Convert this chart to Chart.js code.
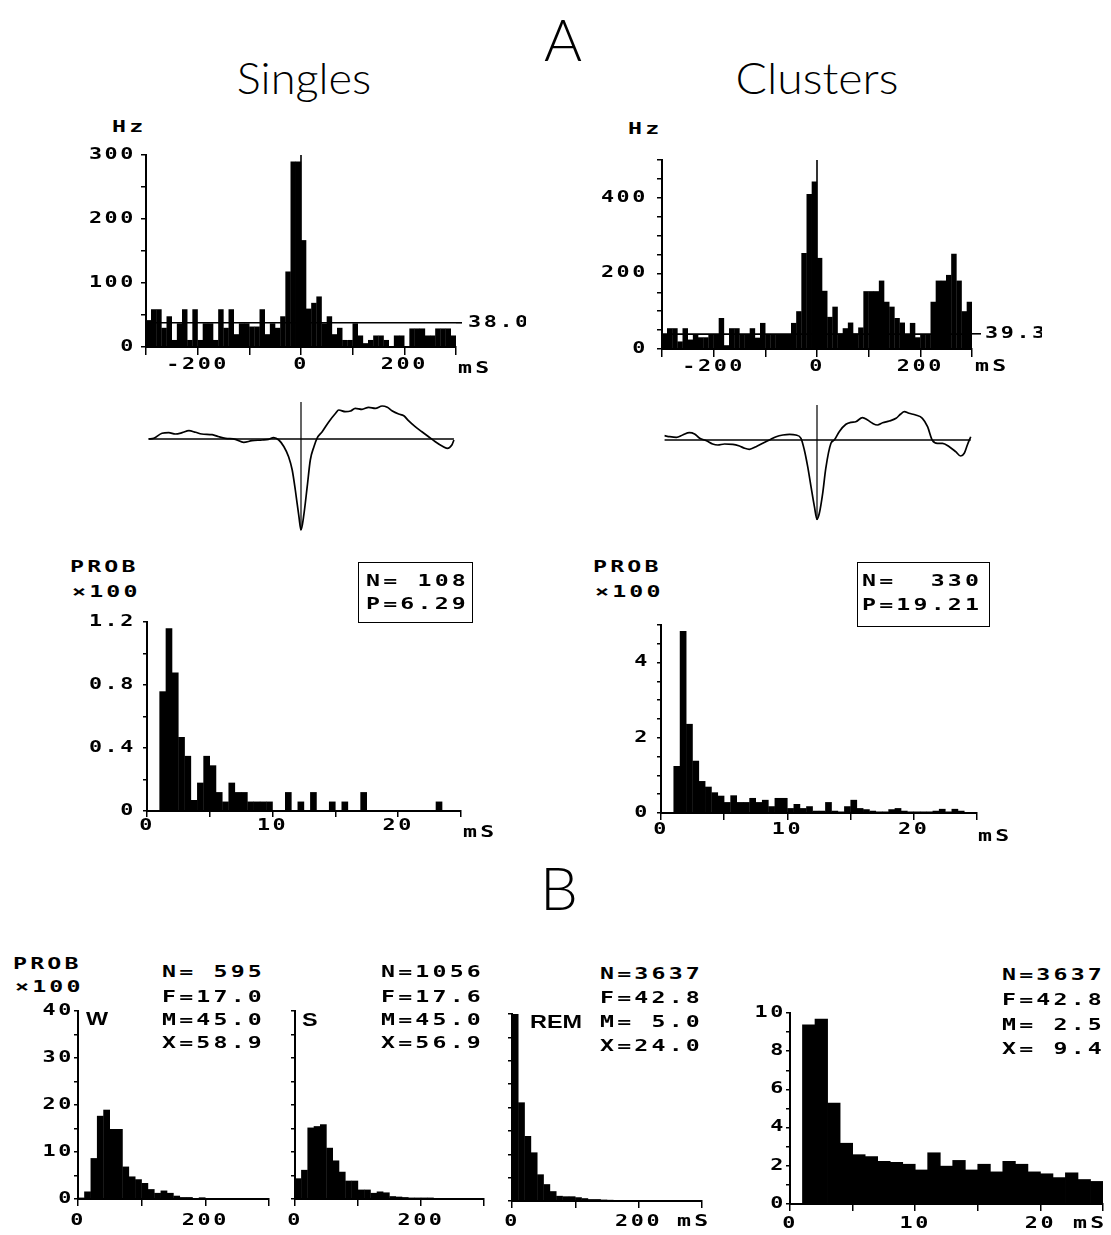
<!DOCTYPE html>
<html><head><meta charset="utf-8">
<script src="https://cdn.jsdelivr.net/npm/chart.js@4.4.0/dist/chart.umd.min.js"></script>
<style>
html,body{margin:0;padding:0;background:#fff;}
body{width:1111px;height:1235px;position:relative;overflow:hidden;}
canvas{position:absolute;}
.t{position:absolute;font:bold 16px 'DejaVu Sans Mono';line-height:16px;letter-spacing:2.2px;white-space:pre;transform:scaleX(1.45);transform-origin:0 0;color:#000;}
.title{position:absolute;font-family:Lato;font-weight:300;color:#000;white-space:pre;text-align:center;}
.lbl{position:absolute;font:bold 18px 'Liberation Sans';line-height:18px;white-space:pre;transform:scaleX(1.3);transform-origin:0 0;color:#000;}
.box{position:absolute;border:1.5px solid #000;box-sizing:border-box;}
</style></head><body>
<script>
// ---------------- DATA ----------------
// A: peri-event histograms (10 ms bins, -300..300 ms), rate in Hz
const psthBinStart = -300, psthBinWidth = 10, psthBinCount = 60;
const singlesRate = [42,59,59,30,48,11,37,59,11,59,11,37,37,11,59,30,59,20,37,37,32,32,59,20,37,30,48,118,290,290,167,60,69,79,37,48,20,30,11,11,37,18,6,11,18,18,11,0,18,18,0,29,29,29,18,18,29,29,29,18];
const clustersRate = [39,55,55,20,55,25,39,31,31,39,39,82,10,55,55,39,39,55,30,69,39,39,39,39,39,69,100,254,410,443,241,154,85,112,41,55,70,41,57,153,153,153,181,125,112,82,70,39,69,31,39,39,125,181,181,196,252,181,100,125];
const singlesMeanRate = 38.0, clustersMeanRate = 39.3;

// A: averaged waveforms (time on the histogram axis, arbitrary amplitude)
const singlesWaveT = [-295,-285,-269,-256,-243,-230,-217,-204,-192,-172,-159,-146,-127,-111,-95,-75,-63,-53,-43,-33,-24,-17,-11,-4,0,5,12,18,25,31,41,54,67,73,86,96,105,118,131,144,157,167,176,189,199,208,221,234,247,260,273,283,292,296];
const singlesWaveA = [0,0.7,5.7,6.3,5,6.3,8.3,6.7,5,4.3,2.3,0.7,-0.3,-3.3,-1.7,-1,-0.3,1.3,-1,-7.7,-17.7,-31,-51,-77.7,-91,-77.7,-47.7,-21,-7.7,0.7,7.3,17.3,25.7,29,27.3,28,30.7,29.7,31.7,30.7,33,31.7,28.3,25,23.3,18.3,12.3,7.3,2.3,-2.7,-7,-9.3,-6,-1];
const clustersWaveT = [-295,-285,-272,-260,-247,-237,-227,-214,-202,-192,-179,-163,-150,-140,-131,-118,-105,-92,-79,-66,-53,-41,-31,-24.5,-18,-11.6,-5,0,4.5,11,17,27,33.5,43,56,66,75,88,98,107.5,117,127,140,153,162,169,178,191,204,214,223,233,243,256,268.5,278,285,291,297.5];
const clustersWaveA = [4.3,3.3,2.7,5,7.3,6,1.7,-0.7,-4,-5,-4,-4.3,-6,-8.3,-9.3,-6.7,-3.3,0,3.3,5,5.7,5,1.7,-10,-26.7,-46.7,-66.7,-79.3,-73.3,-53.3,-28.3,-3.3,0,8.3,15.7,17.7,18.3,22.3,20,16.7,15,17.3,19,21.7,26,28.3,26.7,25,21.7,13.3,0,-3.3,-3.3,-6.7,-11.7,-16,-13.3,-5,3.3];

// A: interval histograms (0.5 ms bins, 0..25 ms), PROB x100
const isiBinWidth = 0.5, isiBinCount = 50;
const singlesIsi = [0,0,0.76,1.16,0.88,0.47,0.35,0.07,0.18,0.35,0.29,0.12,0.06,0.18,0.12,0.12,0.06,0.06,0.06,0.06,0,0,0.12,0,0.06,0,0.12,0,0,0.06,0,0.06,0,0,0.12,0,0,0,0,0,0,0,0,0,0,0,0.06,0,0,0];
const clustersIsi = [0,0,1.25,4.84,2.37,1.39,0.85,0.70,0.55,0.46,0.29,0.47,0.29,0.29,0.40,0.29,0.35,0.18,0.40,0.40,0.13,0.24,0.13,0.18,0.06,0.06,0.29,0.06,0.04,0.18,0.35,0.13,0.10,0.06,0.04,0.04,0.10,0.13,0.06,0.04,0.04,0.04,0.04,0.06,0.11,0.04,0.11,0.06,0.02,0];
const singlesStats = ['N= 108','P=6.29'];
const clustersStats = ['N=  330','P=19.21'];

// B: interval histograms by state (10 ms bins, 0..300 ms) and REM detail (1 ms bins, 0..25 ms)
const stateBinWidth = 10, stateBinCount = 30;
const wakeIsi = [0.3,1.6,8.7,17.7,19.0,14.9,14.9,6.9,4.8,4.2,3.4,2.1,1.3,1.8,1.3,0.7,0.4,0.4,0.2,0.35,0.2,0.2,0.15,0.15,0.1,0.1,0.1,0.1,0.05,0.05];
const swsIsi = [4.4,6.2,15.2,15.5,15.9,10.9,8.2,5.8,3.9,3.9,2.0,2.0,1.3,1.6,1.4,0.6,0.5,0.4,0.3,0.3,0.3,0.3,0.2,0.2,0.2,0.15,0.15,0.15,0.1,0.1];
const remIsi = [40,21.1,13.9,10.4,5.7,3.6,2.1,1.1,1.0,1.0,0.8,0.6,0.4,0.4,0.3,0.25,0.2,0.2,0.15,0.15,0.1,0.1,0.1,0.1,0.05,0.05,0.05,0.05,0.05,0.05];
const remFineBinWidth = 1, remFineBinCount = 25;
const remFineIsi = [0,9.4,9.7,5.3,3.2,2.6,2.5,2.25,2.2,2.1,1.8,2.7,2.0,2.3,1.8,2.1,1.7,2.25,2.1,1.7,1.6,1.4,1.65,1.3,1.2];
const stateLabels = ['W','S','REM'];
const wakeStats = ['N= 595','F=17.0','M=45.0','X=58.9'];
const swsStats = ['N=1056','F=17.6','M=45.0','X=56.9'];
const remStats = ['N=3637','F=42.8','M= 5.0','X=24.0'];
const remFineStats = ['N=3637','F=42.8','M= 2.5','X= 9.4'];

// ---------------- HELPERS ----------------
function centers(start, width, n){ const out=[]; for(let i=0;i<n;i++) out.push(start+width*(i+0.5)); return out; }
const TF = {family:"'DejaVu Sans Mono'", size:15, weight:'bold'};
const LS = '1.8px', SX = 1.45;
Chart.register({id:'plotterText',
  afterInit(c){
    const ctx=c.ctx, orig=ctx.fillText.bind(ctx);
    ctx.fillText=function(t,x,y){ ctx.save(); ctx.translate(x,y); ctx.scale(SX,1); orig(t,0,0); ctx.restore(); };
  },
  beforeUpdate(c){c.ctx.letterSpacing=LS;}, beforeLayout(c){c.ctx.letterSpacing=LS;}, beforeDraw(c){c.ctx.letterSpacing=LS;}});

function mkCanvas(l,t,w,h){
  const c=document.createElement('canvas');
  c.width=w; c.height=h;
  c.style.left=l+'px'; c.style.top=t+'px'; c.style.width=w+'px'; c.style.height=h+'px';
  document.body.appendChild(c); return c;
}

function hist(c){
  const a=c.area, m=c.m;
  const w=a.r-a.l+m.l+m.r, h=a.b-a.t+m.t+m.b;
  const cv=mkCanvas(a.l-m.l, a.t-m.t, w, h);
  const ds=[{type:'bar', yAxisID:'y', data:c.bx.map((x,i)=>({x, y:c.by[i]})), backgroundColor:'#000', borderWidth:0, categoryPercentage:1, barPercentage:1.06, order:2}];
  (c.lines||[]).forEach(L=>ds.push({type:'line', yAxisID:'y', data:L, borderColor:'#000', backgroundColor:'#000', borderWidth:1.6, pointRadius:0, tension:0, fill:false, order:1}));
  const scales={
    x:{type:'linear', position:'bottom', min:c.x.min, max:c.x.max, offset:false,
       border:{display:true,color:'#000',width:2},
       grid:{display:true, drawOnChartArea:false, drawTicks:true, tickLength:c.x.tl, color:'#000', lineWidth:1.5, offset:false},
       ticks:{stepSize:c.x.step, autoSkip:false, maxRotation:0, minRotation:0, color:'#000', font:TF, padding:c.x.pad, callback:c.x.fmt},
       afterFit(s){s.height=m.b;}},
    y:{type:'linear', position:'left', min:c.y.min, max:c.y.max,
       border:{display:true,color:'#000',width:2},
       grid:{display:true, drawOnChartArea:false, drawTicks:true, tickLength:c.y.tl, color:'#000', lineWidth:1.5},
       ticks:{stepSize:c.y.step, autoSkip:false, color:'#000', font:TF, padding:c.y.pad, callback:c.y.fmt},
       afterFit(s){s.width=m.l;}}
  };
  if(c.ref){
    scales.y2={type:'linear', position:'right', min:c.y.min, max:c.y.max,
      border:{display:false},
      grid:{display:true, drawOnChartArea:false, drawTicks:true, tickLength:c.ref.tl, color:'#000', lineWidth:1.6},
      ticks:{color:'#000', font:TF, padding:c.ref.pad, autoSkip:false, callback:()=>c.ref.label},
      afterBuildTicks(s){s.ticks=[{value:c.ref.value}];},
      afterFit(s){s.width=m.r;}};
  }
  new Chart(cv,{type:'bar', data:{datasets:ds}, options:{responsive:false, animation:false, events:[],
    layout:{padding:{left:0, top:m.t, right:c.ref?0:m.r, bottom:0}},
    plugins:{legend:{display:false}, tooltip:{enabled:false}}, scales}});
}

function wave(c){
  const a=c.area, p=4;
  const cv=mkCanvas(a.l-p, a.t-p, a.r-a.l+2*p, a.b-a.t+2*p);
  const line=(data,bw,extra)=>Object.assign({data, showLine:true, borderColor:'#000', borderWidth:bw, pointRadius:0, fill:false}, extra||{});
  new Chart(cv,{type:'scatter', data:{datasets:[
      line(c.wx.map((x,i)=>({x,y:c.wy[i]})),1.7,{cubicInterpolationMode:'monotone'}),
      line(c.base,1.6),
      line(c.marker,1.2)]},
    options:{responsive:false, animation:false, events:[], layout:{padding:p},
      plugins:{legend:{display:false}, tooltip:{enabled:false}},
      scales:{x:{type:'linear', display:false, min:-300, max:300}, y:{type:'linear', display:false, min:-100, max:50}}}});
}

function T(s,x,cy,cls){ const d=document.createElement('div'); d.className=cls||'t'; d.textContent=s; d.style.left=x+'px'; d.style.top=(cy-7.7)+'px'; document.body.appendChild(d); return d; }
function L(s,x,cy){ const d=document.createElement('div'); d.className='lbl'; d.textContent=s; d.style.left=x+'px'; d.style.top=(cy-8.8)+'px'; document.body.appendChild(d); }
function box(x,y,w,h){ const d=document.createElement('div'); d.className='box'; Object.assign(d.style,{left:x+'px',top:y+'px',width:w+'px',height:h+'px'}); document.body.appendChild(d); }
function title(s,cx,top,size,sx){ const d=document.createElement('div'); d.className='title'; d.textContent=s; Object.assign(d.style,{left:(cx-200)+'px', width:'400px', top:top+'px', fontSize:size+'px', lineHeight:size+'px', transform:'scaleX('+sx+')'}); document.body.appendChild(d); }

// ---------------- TITLES ----------------
title('A',563,10,58,1.0);
title('Singles',304,56,43,1.05);
title('Clusters',817,56,43,1.08);
title('B',559,857,60,1.0);

// ---------------- A: PSTH ----------------
const psthX = centers(psthBinStart, psthBinWidth, psthBinCount);
const psthFmt = v => (v===-200||v===0||v===200) ? String(v) : '';
hist({area:{l:146,t:155,r:456,b:347}, m:{l:60,t:15,r:70,b:32},
  bx:psthX, by:singlesRate,
  lines:[[{x:-300,y:singlesMeanRate},{x:300,y:singlesMeanRate}], [{x:0,y:0},{x:0,y:300}]],
  x:{min:-300,max:300,step:100,tl:8,pad:1,fmt:psthFmt},
  y:{min:0,max:300,step:50,tl:5,pad:5,fmt:v=>v%100===0?String(v):''},
  ref:{value:singlesMeanRate,label:singlesMeanRate.toFixed(1),tl:6,pad:6}});
hist({area:{l:662,t:157,r:972,b:349}, m:{l:60,t:15,r:70,b:32},
  bx:psthX, by:clustersRate,
  lines:[[{x:-300,y:clustersMeanRate},{x:300,y:clustersMeanRate}], [{x:0,y:0},{x:0,y:500}]],
  x:{min:-300,max:300,step:100,tl:8,pad:1,fmt:psthFmt},
  y:{min:0,max:500,step:50,tl:5,pad:9,fmt:v=>v%200===0?String(v):''},
  ref:{value:clustersMeanRate,label:clustersMeanRate.toFixed(1),tl:9,pad:4}});
T('Hz',112,127); T('Hz',628,129);
T('mS',458,368); T('mS',975,366);

// ---------------- A: waveforms ----------------
wave({area:{l:146,t:389,r:456,b:539}, wx:singlesWaveT, wy:singlesWaveA,
  base:[{x:-295,y:0},{x:296,y:0}], marker:[{x:0,y:37},{x:0,y:-91}]});
wave({area:{l:662,t:390,r:972,b:540}, wx:clustersWaveT, wy:clustersWaveA,
  base:[{x:-295,y:0},{x:297.5,y:0}], marker:[{x:0,y:35},{x:0,y:-80}]});

// ---------------- A: interval histograms ----------------
const isiX = centers(0, isiBinWidth, isiBinCount);
const isiXFmt = v => (v===0||v===10||v===20) ? String(v) : '';
hist({area:{l:147,t:621,r:461,b:811}, m:{l:60,t:15,r:10,b:30},
  bx:isiX, by:singlesIsi,
  x:{min:0,max:25,step:5,tl:6,pad:0,fmt:isiXFmt},
  y:{min:0,max:1.2,step:0.2,tl:4,pad:7,fmt:v=>{const k=Math.round(v*10); return k%4===0 ? (k===0?'0':(k/10).toFixed(1)) : '';}}});
hist({area:{l:661,t:624,r:977,b:813}, m:{l:60,t:15,r:10,b:30},
  bx:isiX, by:clustersIsi,
  x:{min:0,max:25,step:5,tl:7,pad:1,fmt:isiXFmt},
  y:{min:0,max:5,step:0.5,tl:4,pad:7,fmt:v=>{const k=Math.round(v*2); return k%4===0 ? String(k/2) : '';}}});
T('PROB',70,567); T('×100',72,592);
T('PROB',593,567); T('×100',595,592);
box(358,562,115,61); T(singlesStats[0],366,581); T(singlesStats[1],366,604);
box(857,562,133,65); T(clustersStats[0],862,581); T(clustersStats[1],862,605);
T('mS',463,832); T('mS',978,836);

// ---------------- B ----------------
const stateX = centers(0, stateBinWidth, stateBinCount);
const stateXFmt = v => (v===0||v===200) ? String(v) : '';
const mB = {l:40,t:15,r:8,b:34};
hist({area:{l:78,t:1011,r:269,b:1199}, m:mB, bx:stateX, by:wakeIsi,
  x:{min:0,max:300,step:100,tl:7,pad:6,fmt:stateXFmt},
  y:{min:0,max:40,step:5,tl:4,pad:0,fmt:v=>v%10===0?String(v):''}});
hist({area:{l:295,t:1011,r:484,b:1199}, m:mB, bx:stateX, by:swsIsi,
  x:{min:0,max:300,step:100,tl:7,pad:6,fmt:stateXFmt},
  y:{min:0,max:40,step:5,tl:4,pad:2,fmt:()=>''}});
hist({area:{l:512,t:1014,r:702,b:1201}, m:mB, bx:stateX, by:remIsi,
  x:{min:0,max:300,step:100,tl:7,pad:5,fmt:stateXFmt},
  y:{min:0,max:40,step:5,tl:4,pad:2,fmt:()=>''}});
hist({area:{l:790,t:1013,r:1103,b:1204}, m:mB, bx:centers(0, remFineBinWidth, remFineBinCount), by:remFineIsi,
  x:{min:0,max:25,step:5,tl:7,pad:4,fmt:isiXFmt},
  y:{min:0,max:10,step:1,tl:4,pad:0,fmt:v=>v%2===0?String(v):''}});
T('PROB',13,964); T('×100',15,987);
L(stateLabels[0],86,1019); L(stateLabels[1],302,1019.5); L(stateLabels[2],530,1021.5);
const statY1=[972,997,1020,1043], statY2=[974,998,1022,1046], statY3=[975,1000,1025,1049];
wakeStats.forEach((s,i)=>T(s,162,statY1[i]));
swsStats.forEach((s,i)=>T(s,381,statY1[i]));
remStats.forEach((s,i)=>T(s,600,statY2[i]));
remFineStats.forEach((s,i)=>T(s,1002,statY3[i]));
T('mS',677,1221); T('mS',1073,1223);
</script></body></html>
